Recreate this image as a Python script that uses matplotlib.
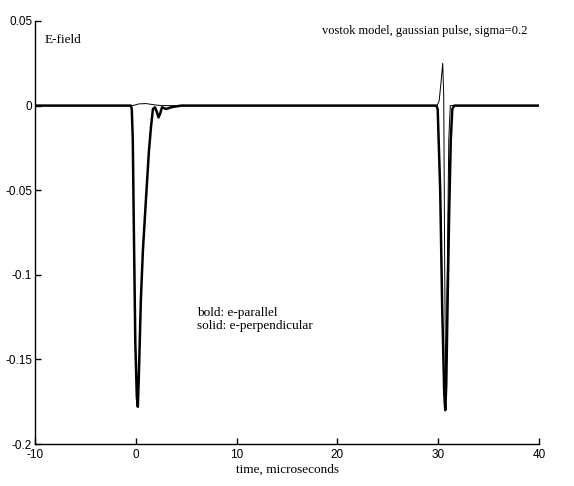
import matplotlib
matplotlib.use('Agg')
import matplotlib.pyplot as plt
from matplotlib.ticker import FuncFormatter

# e-parallel (bold)
t_par = [-10, -0.5, -0.4, -0.3, -0.2, -0.05, 0.1, 0.2, 0.3, 0.5, 0.7, 1.0, 1.3, 1.5, 1.7,
         1.9, 2.1, 2.25, 2.4, 2.6, 3.0, 3.5, 4.5, 29.8, 29.95, 30.2, 30.4, 30.6, 30.7,
         30.8, 30.95, 31.1, 31.25, 31.4, 31.6, 40]
e_par = [0, 0, -0.002, -0.02, -0.07, -0.14, -0.172, -0.178, -0.16, -0.115, -0.086, -0.056,
         -0.027, -0.013, -0.002, -0.001, -0.004, -0.007, -0.005, -0.001, -0.002, -0.001, 0,
         0, -0.002, -0.05, -0.12, -0.17, -0.18, -0.165, -0.11, -0.06, -0.02, -0.002, 0, 0]

# e-perpendicular (thin)
t_perp = [-10, -0.3, 0.3, 1.0, 1.8, 2.5, 29.9, 30.1, 30.3, 30.45, 30.55, 30.65, 30.75,
          30.9, 31.05, 31.2, 40]
e_perp = [0, 0, 0.001, 0.0012, 0.0005, 0, 0, 0.003, 0.015, 0.025, 0.005, -0.1, -0.172,
          -0.1, -0.02, 0, 0]

xticks = [-10, 0, 10, 20, 30, 40]
yticks = [-0.2, -0.15, -0.1, -0.05, 0, 0.05]

serif = 'Liberation Serif'
sans = 'Liberation Sans'

fig = plt.figure(figsize=(5.74, 4.86), dpi=100)
ax = fig.add_axes([0.061, 0.0864, 0.878, 0.8704])

ax.plot(t_perp, e_perp, color='black', lw=0.7)
ax.plot(t_par, e_par, color='black', lw=1.8)

ax.set_xlim(-10, 40)
ax.set_ylim(-0.2, 0.05)
ax.set_xticks(xticks)
ax.set_yticks(yticks)

def fmt(v, pos):
    return '%g' % round(v, 4)

ax.xaxis.set_major_formatter(FuncFormatter(fmt))
ax.yaxis.set_major_formatter(FuncFormatter(fmt))

for s in ['top', 'right']:
    ax.spines[s].set_visible(False)
for s in ['left', 'bottom']:
    ax.spines[s].set_linewidth(1.0)
ax.tick_params(direction='in', length=4, width=1, labelsize=8.5)
ax.tick_params(axis='y', pad=2)
for lab in ax.get_xticklabels() + ax.get_yticklabels():
    lab.set_fontfamily(sans)

ax.set_xlabel('time, microseconds', family=serif, fontsize=9.5, labelpad=2)

ax.text(-9.0, 0.0388, 'E-field', family=serif, fontsize=9.5, va='center')
ax.text(18.5, 0.0442, 'vostok model, gaussian pulse, sigma=0.2', family=serif,
        fontsize=9, va='center')
ax.text(6.1, -0.1225, 'bold: e-parallel', family=serif, fontsize=9.5, va='center')
ax.text(6.1, -0.130, 'solid: e-perpendicular', family=serif, fontsize=9.5, va='center')

fig.savefig('out.png', dpi=100)
